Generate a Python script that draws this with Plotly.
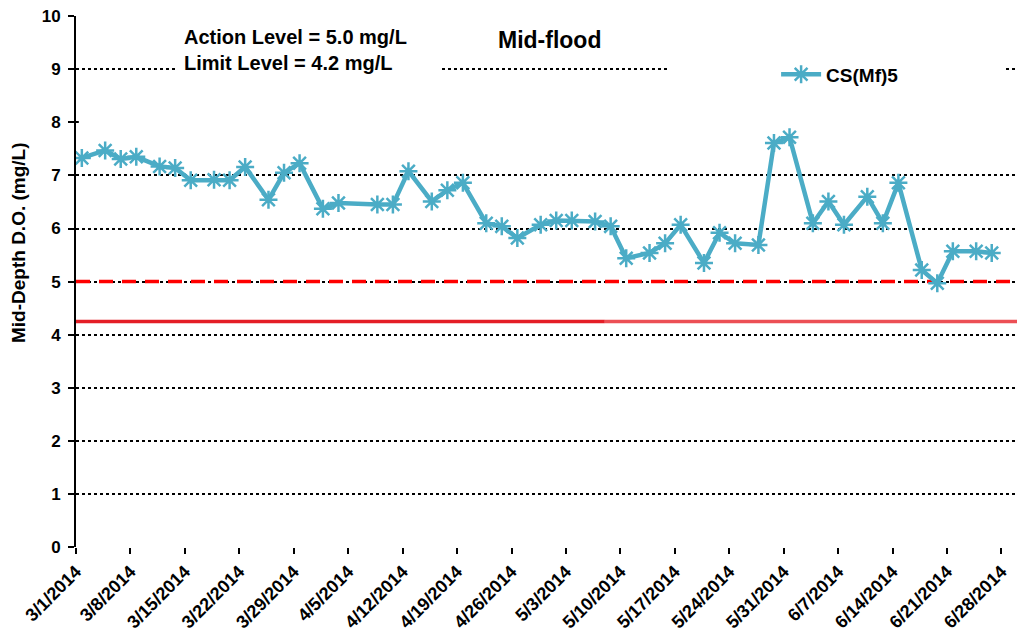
import plotly.graph_objects as go

# ---- data ----
sample_dates = ["2014-03-01", "2014-03-04", "2014-03-06", "2014-03-08", "2014-03-11", "2014-03-13",
                "2014-03-15", "2014-03-18", "2014-03-20", "2014-03-22", "2014-03-25", "2014-03-27",
                "2014-03-29", "2014-04-01", "2014-04-03", "2014-04-08", "2014-04-10", "2014-04-12",
                "2014-04-15", "2014-04-17", "2014-04-19", "2014-04-22", "2014-04-24", "2014-04-26",
                "2014-04-29", "2014-05-01", "2014-05-03", "2014-05-06", "2014-05-08", "2014-05-10",
                "2014-05-13", "2014-05-15", "2014-05-17", "2014-05-20", "2014-05-22", "2014-05-24",
                "2014-05-27", "2014-05-29", "2014-05-31", "2014-06-03", "2014-06-05", "2014-06-07",
                "2014-06-10", "2014-06-12", "2014-06-14", "2014-06-17", "2014-06-19", "2014-06-21",
                "2014-06-24", "2014-06-26"]
sample_time = "18:00"
do_values = [7.33, 7.47, 7.31, 7.35, 7.17, 7.14, 6.91, 6.92, 6.91, 7.16,
             6.54, 7.05, 7.23, 6.37, 6.48, 6.45, 6.45, 7.08, 6.51, 6.72,
             6.86, 6.10, 6.04, 5.82, 6.07, 6.15, 6.15, 6.13, 6.04, 5.44,
             5.54, 5.72, 6.07, 5.35, 5.92, 5.72, 5.69, 7.61, 7.72, 6.10,
             6.51, 6.07, 6.60, 6.10, 6.86, 5.22, 4.97, 5.57, 5.57, 5.54]
series_name = "CS(Mf)5"
action_level = 5.0
limit_level = 4.25
axis_start = "2014-03-01"
axis_mid = "2014-05-08"
axis_end = "2014-06-30"
y_ticks = list(range(0, 11))

x_vals = [f"{d} {sample_time}" for d in sample_dates]

FONT = "Liberation Sans, Arial, sans-serif"
LINE_COLOR = "#4BACC6"

fig = go.Figure()

# reference levels
fig.add_trace(go.Scatter(
    x=[axis_start, axis_end], y=[action_level, action_level], mode="lines",
    line=dict(color="#FF0000", width=3.5, dash="14px,9px"), showlegend=False, hoverinfo="skip"))
fig.add_trace(go.Scatter(
    x=[axis_start, axis_mid], y=[limit_level, limit_level], mode="lines",
    line=dict(color="#E41E26", width=3.5), showlegend=False, hoverinfo="skip"))
fig.add_trace(go.Scatter(
    x=[axis_mid, axis_end], y=[limit_level, limit_level], mode="lines",
    line=dict(color="#EC4F55", width=3.5), showlegend=False, hoverinfo="skip"))

fig.add_trace(go.Scatter(
    x=x_vals, y=do_values, mode="lines+markers", name=series_name,
    line=dict(color=LINE_COLOR, width=4.5),
    marker=dict(symbol="asterisk-open", size=15, color=LINE_COLOR,
                line=dict(color=LINE_COLOR, width=2.5))))

# page body has an 8px margin; margins below compensate for it
fig.update_layout(
    width=1029, height=635,
    margin=dict(l=68, r=20, t=8, b=96, autoexpand=False),
    paper_bgcolor="white", plot_bgcolor="white",
    font=dict(family=FONT, color="black", size=18),
    showlegend=True,
    legend=dict(x=0.744, y=0.89, xanchor="left", yanchor="middle",
                bgcolor="rgba(0,0,0,0)", font=dict(family=FONT, size=19, weight="bold"),
                itemwidth=40),
    xaxis=dict(type="date", range=[axis_start, axis_end], automargin=False,
               tick0=axis_start, dtick=7 * 86400000, tickformat="%-m/%-d/%Y",
               tickangle=-45, showgrid=False, zeroline=False, showline=False,
               ticks="outside", ticklen=6, tickwidth=2, tickcolor="black",
               tickfont=dict(family=FONT, size=18, weight="bold")),
    yaxis=dict(range=[0, 10.003], tickvals=y_ticks, showgrid=True, gridcolor="black",
               gridwidth=1.5, griddash="dot", zeroline=False, automargin=False,
               showline=True, linecolor="black", linewidth=2,
               ticks="outside", ticklen=6, tickwidth=2, tickcolor="black",
               ticklabelstandoff=4, ticklabeloverflow="allow",
               tickfont=dict(family=FONT, size=17, weight="bold")),
    shapes=[
        # hide gridline at 8
        dict(type="line", xref="paper", yref="y", x0=0.003, x1=1.01, y0=8, y1=8,
             line=dict(color="white", width=4), layer="above"),
        # text box background
        dict(type="rect", xref="paper", yref="paper", x0=0.1065, x1=0.3868, y0=0.87, y1=0.96,
             fillcolor="white", line=dict(width=0), layer="above"),
        # legend box background
        dict(type="rect", xref="paper", yref="paper", x0=0.630, x1=0.988, y0=0.86, y1=0.94,
             fillcolor="white", line=dict(width=0), layer="above"),
    ],
    annotations=[
        dict(text="Action Level = 5.0 mg/L<br>Limit Level = 4.2 mg/L", xref="paper", yref="paper",
             x=(182 - 76) / 941, y=(547 - 50) / 531, xanchor="left", yanchor="middle",
             align="left", showarrow=False, font=dict(family=FONT, size=20, weight="bold")),
        dict(text="Mid-flood", xref="paper", yref="paper",
             x=(549 - 76) / 941, y=(547 - 40) / 531, xanchor="center", yanchor="middle",
             showarrow=False, font=dict(family=FONT, size=23, weight="bold")),
        dict(text="Mid-Depth D.O. (mg/L)", xref="paper", yref="paper",
             x=(18 - 76) / 941, y=(547 - 243) / 531, xanchor="center", yanchor="middle",
             textangle=-90, showarrow=False, font=dict(family=FONT, size=19, weight="bold")),
    ],
)

fig.write_html("out.html")
